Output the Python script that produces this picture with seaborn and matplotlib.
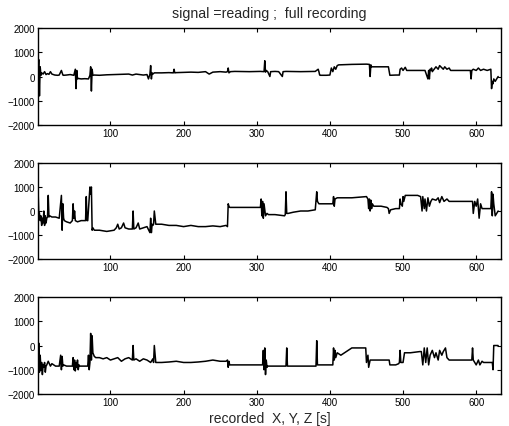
import matplotlib
matplotlib.use("Agg")
import matplotlib.pyplot as plt
import seaborn as sns
import pandas as pd

# ---- data: (time [s], reading) ----
signal_x = [(1, 0), (2, 700), (3, -800), (4, 400), (5, 50), (6, 150), (8, 100), (10, 200), (12, 80),
            (14, 120), (16, 90), (18, 200), (20, 100), (24, 60), (28, 50), (30, 60), (33, 250), (35, 60),
            (36, 50), (40, 60), (45, 80), (50, 50), (52, 300), (53, -500), (54, 250), (55, -100), (56, -80),
            (60, -100), (65, -90), (70, -100), (72, 50), (73, 400), (74, -600), (75, 300), (76, 50), (78, 60),
            (85, 50), (95, 70), (105, 80), (115, 90), (125, 100), (130, 60), (135, 100), (140, 80), (145, 60),
            (150, 80), (152, -100), (154, 100), (155, 450), (156, -100), (157, 150), (158, 100), (160, 150),
            (170, 150), (180, 160), (186, 150), (187, 300), (188, 150), (190, 160), (200, 170), (210, 180),
            (220, 170), (230, 200), (235, 100), (240, 180), (250, 200), (258, 180), (260, 200), (261, 350),
            (262, 150), (264, 200), (270, 210), (290, 200), (305, 210), (310, 200), (311, 650), (312, 180),
            (313, 250), (315, 200), (318, 0), (319, 200), (325, 210), (330, 200), (335, 0), (336, 200),
            (340, 210), (360, 200), (380, 210), (384, 300), (385, 200), (386, 60), (387, 50), (395, 50),
            (400, 60), (402, 350), (404, 200), (406, 400), (408, 300), (410, 450), (412, 480), (430, 500),
            (450, 510), (454, 500), (455, 0), (456, 480), (457, 400), (470, 400), (480, 400), (482, 50),
            (490, 60), (495, 60), (496, 300), (498, 350), (500, 250), (503, 380), (505, 250), (520, 250),
            (530, 250), (534, -100), (535, 250), (536, -100), (537, 300), (538, 250), (539, 350), (540, 200),
            (545, 400), (548, 300), (550, 450), (555, 300), (557, 400), (560, 300), (563, 350), (565, 250),
            (580, 250), (592, 250), (593, -100), (594, 250), (596, 300), (600, 250), (603, 350), (606, 250),
            (610, 300), (615, 250), (620, 300), (621, -500), (622, -200), (623, -300), (624, -100),
            (626, -200), (630, 0)]

signal_y = [(1, 950), (2, 0), (3, -100), (4, -400), (5, -200), (6, -600), (7, -300), (8, -500), (9, 0),
            (10, -600), (11, -200), (12, -500), (13, -300), (14, -250), (15, 650), (16, -250), (17, -200),
            (20, -250), (25, -250), (30, -300), (33, 650), (34, -800), (35, 300), (36, -300), (37, -400),
            (40, -450), (45, -500), (48, -400), (49, 300), (50, -300), (51, 0), (52, -400), (55, -450),
            (60, -400), (66, -400), (67, 600), (68, -400), (69, -400), (72, 1000), (73, 700), (74, 1000),
            (75, -800), (76, -700), (78, -800), (85, -800), (95, -850), (105, -800), (108, -700), (110, -550),
            (112, -750), (115, -700), (118, -500), (120, -700), (125, -750), (130, -750), (131, 0),
            (132, -750), (135, -700), (138, -500), (140, -750), (145, -700), (150, -650), (154, -900),
            (155, -300), (156, -900), (157, -550), (158, -600), (159, -550), (160, 0), (162, -550),
            (170, -550), (180, -600), (190, -600), (200, -650), (210, -600), (220, -650), (230, -650),
            (240, -620), (250, -650), (258, -600), (260, -650), (261, 300), (262, 200), (263, 150),
            (270, 150), (290, 150), (305, 150), (306, 500), (307, -200), (308, 400), (309, -300),
            (310, 300), (312, -200), (314, -100), (316, -150), (325, -150), (338, -200), (339, -150),
            (340, 800), (341, -100), (343, -100), (350, -50), (360, 0), (370, 0), (380, 50), (382, 800),
            (383, 400), (385, 300), (386, 300), (390, 300), (400, 300), (404, 300), (405, 600), (406, 200),
            (407, 500), (410, 550), (415, 550), (430, 550), (450, 600), (452, 500), (453, 100), (454, 500),
            (455, 0), (456, 450), (457, 100), (458, 300), (460, 200), (470, 200), (478, 150), (480, 100),
            (481, -100), (483, 50), (490, 100), (495, 100), (496, 500), (497, 300), (499, 200), (500, 600),
            (501, 400), (503, 650), (505, 650), (510, 650), (520, 650), (524, 600), (526, 0), (527, 600),
            (529, 100), (530, 500), (532, 0), (534, 550), (536, 200), (538, 400), (540, 500), (545, 450),
            (548, 550), (550, 350), (553, 600), (556, 400), (560, 500), (563, 400), (565, 400), (570, 400),
            (580, 400), (595, 400), (596, -100), (598, 400), (600, 200), (602, 500), (604, -300),
            (606, 300), (608, 100), (610, 100), (620, 100), (621, 800), (622, -200), (623, 700),
            (624, 300), (626, -200), (630, 0)]

signal_z = [(1, -1200), (2, 100), (3, -1100), (4, -400), (5, -1000), (6, -700), (7, -1200), (8, -800),
            (9, -900), (10, -700), (11, -1100), (12, -850), (13, -800), (15, -650), (18, -850), (20, -750),
            (25, -850), (30, -850), (32, -400), (33, -1000), (34, -450), (35, -850), (36, -800), (40, -850),
            (45, -850), (48, -850), (49, -500), (50, -1000), (51, -600), (52, -1050), (53, -700), (54, -900),
            (55, -600), (56, -1000), (57, -800), (58, -850), (60, -850), (66, -850), (69, -850), (70, -400),
            (71, -1000), (72, -700), (73, 500), (74, -600), (75, 400), (76, -300), (78, -450), (80, -500),
            (85, -500), (90, -550), (95, -500), (100, -600), (105, -550), (110, -500), (115, -650),
            (120, -550), (125, -500), (130, -600), (131, 0), (132, -600), (135, -550), (140, -650),
            (145, -550), (150, -600), (155, -700), (158, -550), (159, -700), (160, 0), (162, -700),
            (170, -700), (180, -680), (190, -650), (200, -700), (210, -700), (220, -680), (230, -650),
            (240, -600), (250, -650), (258, -650), (260, -600), (261, -900), (262, -650), (263, -800),
            (270, -800), (290, -800), (308, -800), (309, -200), (310, -1000), (311, -100), (312, -1200),
            (313, -600), (314, -900), (315, -850), (318, -850), (330, -850), (340, -850), (341, -100),
            (342, -850), (350, -850), (370, -850), (381, -850), (382, 200), (383, -800), (385, -800),
            (390, -800), (400, -800), (404, -800), (405, -100), (406, -600), (407, -200), (408, -500),
            (409, -400), (410, -300), (415, -400), (420, -300), (425, -200), (430, -100), (445, -100),
            (449, -100), (450, -700), (452, -400), (453, -900), (455, -600), (456, -600), (458, -600),
            (470, -600), (481, -600), (482, -800), (490, -800), (494, -750), (495, -700), (496, -200),
            (497, -700), (500, -700), (502, -300), (505, -300), (510, -300), (523, -250), (525, -250),
            (527, -800), (529, -100), (531, -700), (533, -100), (535, -800), (537, -400), (540, -200),
            (543, -500), (545, -300), (548, -600), (550, -200), (553, -400), (555, -250), (558, -100),
            (560, -500), (563, -600), (565, -600), (570, -600), (580, -600), (594, -600), (595, -100),
            (596, -600), (600, -800), (603, -600), (605, -800), (608, -650), (610, -700), (620, -700),
            (622, -700), (623, -1000), (624, 0), (625, 0), (630, 0)]

x_ticks = [100, 200, 300, 400, 500, 600]
y_ticks = [-2000, -1000, 0, 1000, 2000]

# ---- figure ----
sns.set_style("ticks")
plt.rcParams['font.family'] = ['Liberation Sans', 'DejaVu Sans']

fig = plt.figure(figsize=(5.10, 4.27), dpi=100)
rects = [
    [0.0745, 0.705, 0.908, 0.227],
    [0.0745, 0.391, 0.908, 0.225],
    [0.0745, 0.075, 0.908, 0.227],
]
axes = []
for rect, sig in zip(rects, [signal_x, signal_y, signal_z]):
    ax = fig.add_axes(rect)
    df = pd.DataFrame(sig, columns=["t", "v"])
    sns.lineplot(data=df, x="t", y="v", ax=ax, color="black", linewidth=1.1,
                 estimator=None, sort=False)
    ax.set_xlim(1, 634)
    ax.set_ylim(-2000, 2000)
    ax.set_xticks(x_ticks)
    ax.set_yticks(y_ticks)
    ax.tick_params(direction="in", top=True, right=True, length=3, width=0.8,
                   labelsize=7, pad=2, colors="black")
    for s in ax.spines.values():
        s.set_visible(True)
        s.set_linewidth(1.0)
        s.set_color("black")
    ax.set_xlabel("")
    ax.set_ylabel("")
    axes.append(ax)

axes[0].set_title("signal =reading ;  full recording", fontsize=10.2, pad=8)
axes[2].set_xlabel("recorded  X, Y, Z [s]", fontsize=10, labelpad=3)

fig.savefig("out.png", dpi=100)
